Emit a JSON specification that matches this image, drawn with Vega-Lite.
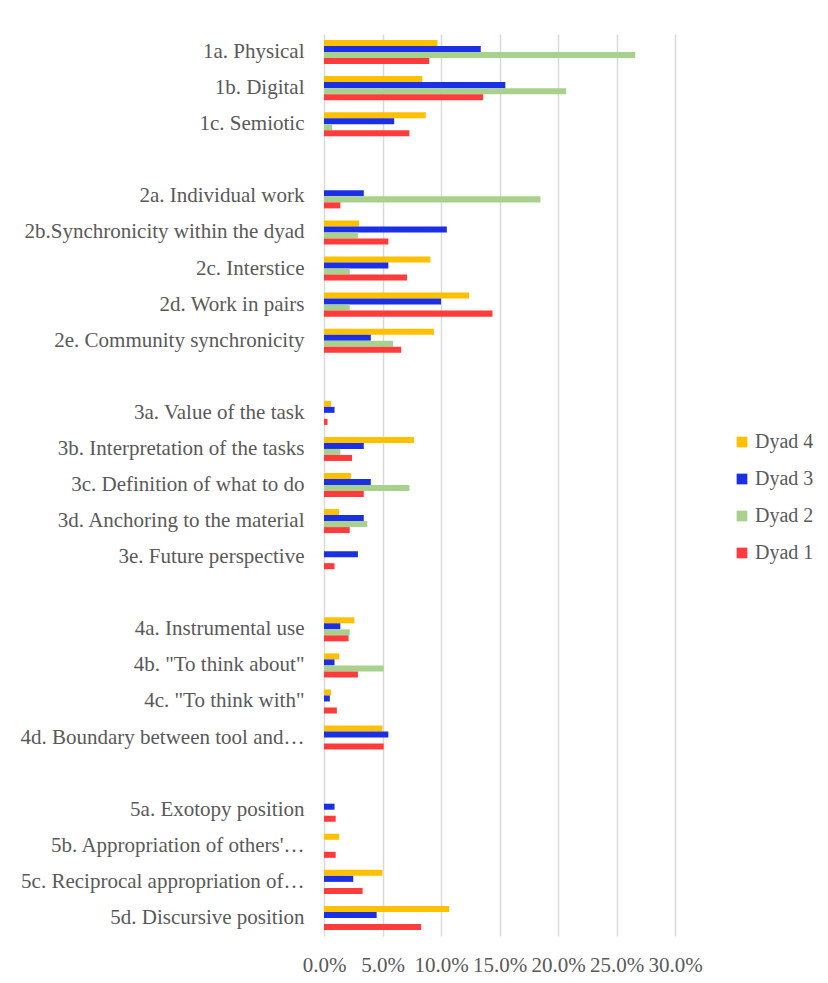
{
  "$schema": "https://vega.github.io/schema/vega-lite/v6.json",
  "autosize": {"type": "none"},
  "padding": {"left": 324, "top": 34, "right": 153, "bottom": 47},
  "width": 351,
  "height": 902,
  "background": "white",
  "config": {
    "view": {"stroke": null},
    "font": "Liberation Serif"
  },
  "data": {
    "values": [
      {"cat": "1a. Physical", "dyad": "Dyad 4", "v": 0.097},
      {"cat": "1a. Physical", "dyad": "Dyad 3", "v": 0.134},
      {"cat": "1a. Physical", "dyad": "Dyad 2", "v": 0.266},
      {"cat": "1a. Physical", "dyad": "Dyad 1", "v": 0.090},
      {"cat": "1b. Digital", "dyad": "Dyad 4", "v": 0.084},
      {"cat": "1b. Digital", "dyad": "Dyad 3", "v": 0.155},
      {"cat": "1b. Digital", "dyad": "Dyad 2", "v": 0.207},
      {"cat": "1b. Digital", "dyad": "Dyad 1", "v": 0.136},
      {"cat": "1c. Semiotic", "dyad": "Dyad 4", "v": 0.087},
      {"cat": "1c. Semiotic", "dyad": "Dyad 3", "v": 0.060},
      {"cat": "1c. Semiotic", "dyad": "Dyad 2", "v": 0.007},
      {"cat": "1c. Semiotic", "dyad": "Dyad 1", "v": 0.073},
      {"cat": "2a. Individual work", "dyad": "Dyad 3", "v": 0.034},
      {"cat": "2a. Individual work", "dyad": "Dyad 2", "v": 0.185},
      {"cat": "2a. Individual work", "dyad": "Dyad 1", "v": 0.014},
      {"cat": "2b.Synchronicity within the dyad", "dyad": "Dyad 4", "v": 0.030},
      {"cat": "2b.Synchronicity within the dyad", "dyad": "Dyad 3", "v": 0.105},
      {"cat": "2b.Synchronicity within the dyad", "dyad": "Dyad 2", "v": 0.029},
      {"cat": "2b.Synchronicity within the dyad", "dyad": "Dyad 1", "v": 0.055},
      {"cat": "2c. Interstice", "dyad": "Dyad 4", "v": 0.091},
      {"cat": "2c. Interstice", "dyad": "Dyad 3", "v": 0.055},
      {"cat": "2c. Interstice", "dyad": "Dyad 2", "v": 0.022},
      {"cat": "2c. Interstice", "dyad": "Dyad 1", "v": 0.071},
      {"cat": "2d. Work in pairs", "dyad": "Dyad 4", "v": 0.124},
      {"cat": "2d. Work in pairs", "dyad": "Dyad 3", "v": 0.100},
      {"cat": "2d. Work in pairs", "dyad": "Dyad 2", "v": 0.022},
      {"cat": "2d. Work in pairs", "dyad": "Dyad 1", "v": 0.144},
      {"cat": "2e. Community synchronicity", "dyad": "Dyad 4", "v": 0.094},
      {"cat": "2e. Community synchronicity", "dyad": "Dyad 3", "v": 0.040},
      {"cat": "2e. Community synchronicity", "dyad": "Dyad 2", "v": 0.059},
      {"cat": "2e. Community synchronicity", "dyad": "Dyad 1", "v": 0.066},
      {"cat": "3a. Value of the task", "dyad": "Dyad 4", "v": 0.006},
      {"cat": "3a. Value of the task", "dyad": "Dyad 3", "v": 0.009},
      {"cat": "3a. Value of the task", "dyad": "Dyad 1", "v": 0.003},
      {"cat": "3b. Interpretation of the tasks", "dyad": "Dyad 4", "v": 0.077},
      {"cat": "3b. Interpretation of the tasks", "dyad": "Dyad 3", "v": 0.034},
      {"cat": "3b. Interpretation of the tasks", "dyad": "Dyad 2", "v": 0.014},
      {"cat": "3b. Interpretation of the tasks", "dyad": "Dyad 1", "v": 0.024},
      {"cat": "3c. Definition of what to do", "dyad": "Dyad 4", "v": 0.023},
      {"cat": "3c. Definition of what to do", "dyad": "Dyad 3", "v": 0.040},
      {"cat": "3c. Definition of what to do", "dyad": "Dyad 2", "v": 0.073},
      {"cat": "3c. Definition of what to do", "dyad": "Dyad 1", "v": 0.034},
      {"cat": "3d. Anchoring to the material", "dyad": "Dyad 4", "v": 0.013},
      {"cat": "3d. Anchoring to the material", "dyad": "Dyad 3", "v": 0.034},
      {"cat": "3d. Anchoring to the material", "dyad": "Dyad 2", "v": 0.037},
      {"cat": "3d. Anchoring to the material", "dyad": "Dyad 1", "v": 0.022},
      {"cat": "3e. Future perspective", "dyad": "Dyad 3", "v": 0.029},
      {"cat": "3e. Future perspective", "dyad": "Dyad 1", "v": 0.009},
      {"cat": "4a. Instrumental use", "dyad": "Dyad 4", "v": 0.026},
      {"cat": "4a. Instrumental use", "dyad": "Dyad 3", "v": 0.014},
      {"cat": "4a. Instrumental use", "dyad": "Dyad 2", "v": 0.022},
      {"cat": "4a. Instrumental use", "dyad": "Dyad 1", "v": 0.021},
      {"cat": "4b. \"To think about\"", "dyad": "Dyad 4", "v": 0.013},
      {"cat": "4b. \"To think about\"", "dyad": "Dyad 3", "v": 0.009},
      {"cat": "4b. \"To think about\"", "dyad": "Dyad 2", "v": 0.051},
      {"cat": "4b. \"To think about\"", "dyad": "Dyad 1", "v": 0.029},
      {"cat": "4c. \"To think with\"", "dyad": "Dyad 4", "v": 0.006},
      {"cat": "4c. \"To think with\"", "dyad": "Dyad 3", "v": 0.005},
      {"cat": "4c. \"To think with\"", "dyad": "Dyad 1", "v": 0.011},
      {"cat": "4d. Boundary between tool and…", "dyad": "Dyad 4", "v": 0.050},
      {"cat": "4d. Boundary between tool and…", "dyad": "Dyad 3", "v": 0.055},
      {"cat": "4d. Boundary between tool and…", "dyad": "Dyad 1", "v": 0.051},
      {"cat": "5a. Exotopy position", "dyad": "Dyad 3", "v": 0.009},
      {"cat": "5a. Exotopy position", "dyad": "Dyad 1", "v": 0.010},
      {"cat": "5b. Appropriation of others'…", "dyad": "Dyad 4", "v": 0.013},
      {"cat": "5b. Appropriation of others'…", "dyad": "Dyad 1", "v": 0.010},
      {"cat": "5c. Reciprocal appropriation of…", "dyad": "Dyad 4", "v": 0.050},
      {"cat": "5c. Reciprocal appropriation of…", "dyad": "Dyad 3", "v": 0.025},
      {"cat": "5c. Reciprocal appropriation of…", "dyad": "Dyad 1", "v": 0.033},
      {"cat": "5d. Discursive position", "dyad": "Dyad 4", "v": 0.107},
      {"cat": "5d. Discursive position", "dyad": "Dyad 3", "v": 0.045},
      {"cat": "5d. Discursive position", "dyad": "Dyad 1", "v": 0.083}
    ]
  },
  "mark": {"type": "bar"},
  "encoding": {
    "y": {
      "field": "cat",
      "type": "nominal",
      "scale": {
        "domain": [
          "1a. Physical", "1b. Digital", "1c. Semiotic", " ",
          "2a. Individual work", "2b.Synchronicity within the dyad", "2c. Interstice", "2d. Work in pairs", "2e. Community synchronicity", "  ",
          "3a. Value of the task", "3b. Interpretation of the tasks", "3c. Definition of what to do", "3d. Anchoring to the material", "3e. Future perspective", "   ",
          "4a. Instrumental use", "4b. \"To think about\"", "4c. \"To think with\"", "4d. Boundary between tool and…", "    ",
          "5a. Exotopy position", "5b. Appropriation of others'…", "5c. Reciprocal appropriation of…", "5d. Discursive position"
        ],
        "paddingInner": 0.333,
        "paddingOuter": 0.1667
      },
      "axis": {
        "title": null,
        "ticks": false,
        "domain": false,
        "grid": false,
        "labelFont": "Liberation Serif",
        "labelFontSize": 21,
        "labelColor": "#595959",
        "labelPadding": 20,
        "labelLimit": 400
      }
    },
    "yOffset": {
      "field": "dyad",
      "type": "nominal",
      "scale": {"domain": ["Dyad 4", "Dyad 3", "Dyad 2", "Dyad 1"], "paddingInner": 0, "paddingOuter": 0}
    },
    "x": {
      "field": "v",
      "type": "quantitative",
      "scale": {"domain": [0, 0.3], "nice": false},
      "axis": {
        "title": null,
        "format": ".1%",
        "values": [0, 0.05, 0.1, 0.15, 0.2, 0.25, 0.3],
        "ticks": false,
        "domain": false,
        "grid": true,
        "gridColor": "#d9d9d9",
        "gridWidth": 1.5,
        "labelFont": "Liberation Serif",
        "labelFontSize": 21,
        "labelColor": "#595959",
        "labelPadding": 18,
        "labelOverlap": false,
        "labelFlush": false
      }
    },
    "color": {
      "field": "dyad",
      "type": "nominal",
      "scale": {
        "domain": ["Dyad 4", "Dyad 3", "Dyad 2", "Dyad 1"],
        "range": ["#ffc000", "#1b2fe5", "#a9d18e", "#ff3b3b"]
      },
      "legend": {
        "title": null,
        "orient": "none",
        "legendX": 408,
        "legendY": 398,
        "symbolType": "square",
        "symbolSize": 115,
        "symbolStrokeWidth": 0,
        "labelFont": "Liberation Serif",
        "labelFontSize": 20,
        "labelColor": "#595959",
        "labelOffset": 3,
        "rowPadding": 17
      }
    }
  }
}
